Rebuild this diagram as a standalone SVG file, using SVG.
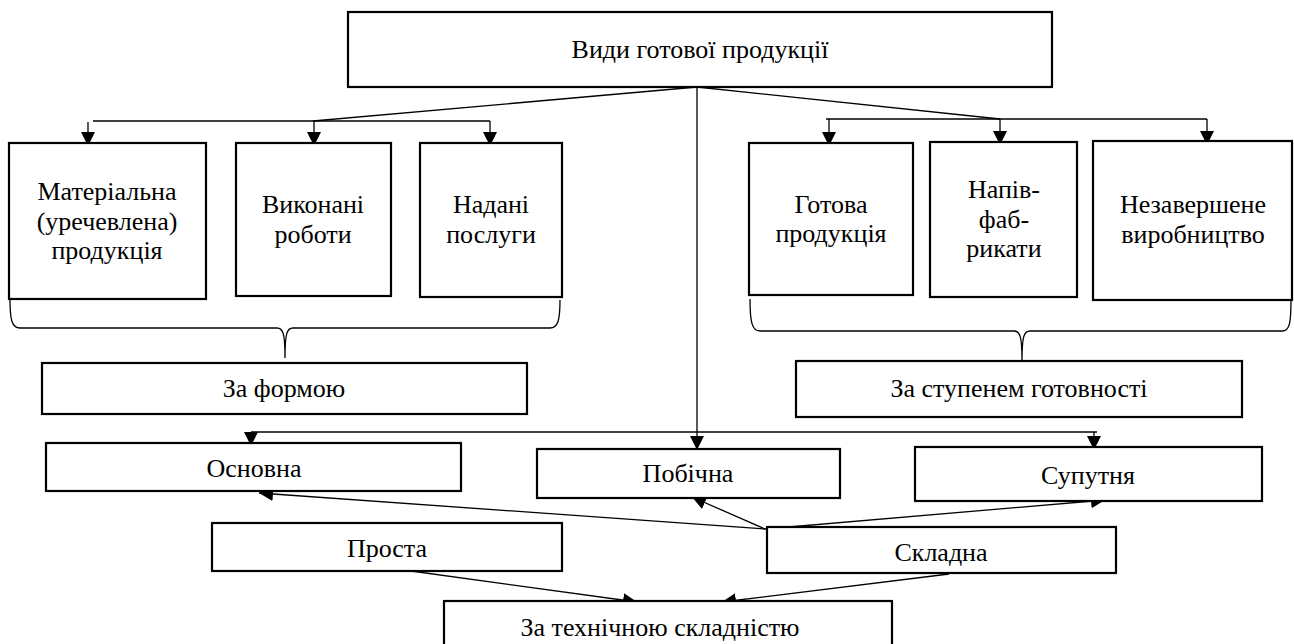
<svg xmlns="http://www.w3.org/2000/svg" width="1294" height="644" viewBox="0 0 1294 644">
<style>
.box{fill:#fff;stroke:#000;stroke-width:2.2}
.t{font-family:'Liberation Serif','Times New Roman','DejaVu Serif',serif;font-size:26px;fill:#000;text-anchor:middle}
.c{fill:none;stroke:#000;stroke-width:1.3}
.br{fill:none;stroke:#000;stroke-width:1.3}
</style>
<defs>
<marker id="ah" markerUnits="userSpaceOnUse" markerWidth="16" markerHeight="16" refX="14" refY="7" orient="auto">
<path d="M0,0 L14,7 L0,14 Z" fill="#000"/>
</marker>
</defs>
<rect width="1294" height="644" fill="#fff"/>
<g id="connectors">
<path class="c" d="M697,87 L313,121"/>
<path class="c" d="M93,121 H490"/>
<path class="c" d="M88,122 V146" marker-end="url(#ah)"/>
<path class="c" d="M314,121 V146" marker-end="url(#ah)"/>
<path class="c" d="M490,121 V146" marker-end="url(#ah)"/>
<path class="c" d="M697,87 L1000,119"/>
<path class="c" d="M826,119 H1207"/>
<path class="c" d="M829,119 V146" marker-end="url(#ah)"/>
<path class="c" d="M1000,119 V145" marker-end="url(#ah)"/>
<path class="c" d="M1207,119 V145" marker-end="url(#ah)"/>
<path class="c" d="M697,87 V450" marker-end="url(#ah)"/>
<path class="c" d="M251,432 H1097"/>
<path class="c" d="M251,432 V446" marker-end="url(#ah)"/>
<path class="c" d="M1094,432 V450" marker-end="url(#ah)"/>
<path class="c" d="M765,529 L259,493" marker-end="url(#ah)"/>
<path class="c" d="M765,529 L692,497" marker-end="url(#ah)"/>
<path class="c" d="M765,529 L1105,500" marker-end="url(#ah)"/>
<path class="c" d="M411,571 L637,602" marker-end="url(#ah)"/>
<path class="c" d="M949,574 L722,602" marker-end="url(#ah)"/>
<path class="br" d="M10,300 C10,320 12,328 20,328 H277 C283,328 285,333 285,358 C285,333 287,328 293,328 H550 C558,328 560,320 560,300"/>
<path class="br" d="M750,299 C750,322 752,331 760,331 H1014 C1020,331 1022,336 1022,361 C1022,336 1024,331 1030,331 H1282 C1290,331 1291,322 1291,299"/>
</g>
<g id="n-top"><rect class="box" x="348" y="12" width="704" height="75"/><text class="t" x="700" y="58">Види готової продукції</text></g>
<g id="n-mat"><rect class="box" x="9" y="143" width="197" height="156"/><text class="t" x="107" y="200">Матеріальна</text><text class="t" x="107" y="230">(уречевлена)</text><text class="t" x="107" y="259">продукція</text></g>
<g id="n-vyk"><rect class="box" x="236" y="143" width="155" height="153"/><text class="t" x="313" y="213">Виконані</text><text class="t" x="313" y="243">роботи</text></g>
<g id="n-nad"><rect class="box" x="420" y="143" width="142" height="154"/><text class="t" x="491" y="213">Надані</text><text class="t" x="491" y="243">послуги</text></g>
<g id="n-got"><rect class="box" x="749" y="143" width="164" height="152"/><text class="t" x="831" y="213">Готова</text><text class="t" x="831" y="242">продукція</text></g>
<g id="n-nap"><rect class="box" x="930" y="142" width="147" height="155"/><text class="t" x="1004" y="198">Напів-</text><text class="t" x="1004" y="228">фаб-</text><text class="t" x="1004" y="257">рикати</text></g>
<g id="n-nez"><rect class="box" x="1093" y="141" width="199" height="159"/><text class="t" x="1193" y="213">Незавершене</text><text class="t" x="1193" y="243">виробництво</text></g>
<g id="n-forma"><rect class="box" x="42" y="363" width="485" height="51"/><text class="t" x="284" y="397">За формою</text></g>
<g id="n-stup"><rect class="box" x="796" y="361" width="446" height="56"/><text class="t" x="1019" y="397">За ступенем готовності</text></g>
<g id="n-osn"><rect class="box" x="46" y="443" width="415" height="48"/><text class="t" x="254" y="477">Основна</text></g>
<g id="n-pob"><rect class="box" x="537" y="449" width="303" height="49"/><text class="t" x="688" y="482">Побічна</text></g>
<g id="n-sup"><rect class="box" x="915" y="447" width="347" height="54"/><text class="t" x="1088" y="484">Супутня</text></g>
<g id="n-prosta"><rect class="box" x="212" y="523" width="350" height="48"/><text class="t" x="387" y="557">Проста</text></g>
<g id="n-skl"><rect class="box" x="767" y="527" width="349" height="46"/><text class="t" x="941" y="561">Складна</text></g>
<g id="n-tekh"><rect class="box" x="444" y="601" width="448" height="50"/><text class="t" x="660" y="636">За технічною складністю</text></g>
</svg>
